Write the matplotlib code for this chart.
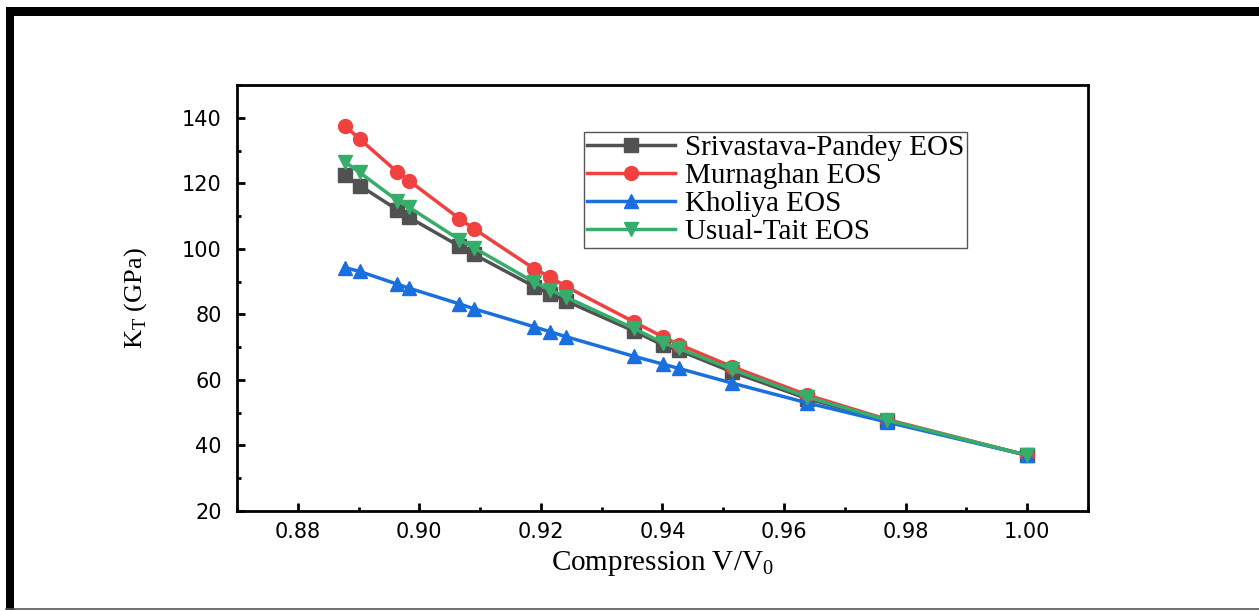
import matplotlib
matplotlib.use("Agg")
import matplotlib.pyplot as plt
from matplotlib.patches import Rectangle
from matplotlib.lines import Line2D
from matplotlib.ticker import MultipleLocator

# compression V/V0
compression = [0.8877, 0.8902, 0.8964, 0.8983, 0.9066, 0.9090, 0.9189, 0.9215,
               0.9241, 0.9353, 0.9401, 0.9427, 0.9515, 0.9638, 0.9770, 1.0000]

# isothermal bulk modulus K_T in GPa
srivastava_pandey = [122.4, 119.3, 111.9, 109.6, 100.8, 98.3, 88.5, 86.3,
                     84.1, 74.9, 70.6, 69.0, 62.4, 54.3, 47.6, 37.0]
murnaghan = [137.6, 133.5, 123.4, 120.8, 109.2, 106.1, 93.9, 91.4,
             88.5, 77.7, 73.1, 70.8, 64.0, 55.4, 47.9, 37.0]
kholiya = [94.3, 93.1, 89.2, 88.0, 83.2, 81.7, 76.2, 74.7,
           73.2, 67.2, 64.8, 63.5, 59.0, 53.0, 47.1, 37.0]
usual_tait = [126.6, 123.3, 114.7, 112.7, 102.8, 100.3, 89.8, 87.5,
              85.3, 75.7, 71.3, 69.6, 63.2, 54.8, 47.7, 37.0]

series = [
    ('Srivastava-Pandey EOS', srivastava_pandey, '#515151', 's'),
    ('Murnaghan EOS', murnaghan, '#F14040', 'o'),
    ('Kholiya EOS', kholiya, '#1A6FDF', '^'),
    ('Usual-Tait EOS', usual_tait, '#37AD6B', 'v'),
]

fig = plt.figure(figsize=(12.59, 6.11), dpi=100)
ax = fig.add_axes([0.1882, 0.1637, 0.6760, 0.6972])

for label, vals, color, marker in series:
    ax.plot(compression, vals, color=color, marker=marker, markersize=10,
            linewidth=2.5, label=label)

ax.set_xlim(0.87, 1.01)
ax.set_ylim(20, 150)
ax.xaxis.set_major_locator(MultipleLocator(0.02))
ax.xaxis.set_minor_locator(MultipleLocator(0.01))
ax.yaxis.set_major_locator(MultipleLocator(20))
ax.yaxis.set_minor_locator(MultipleLocator(10))
ax.xaxis.set_major_formatter(matplotlib.ticker.FormatStrFormatter('%.2f'))

for sp in ax.spines.values():
    sp.set_linewidth(2.0)
ax.tick_params(which='both', direction='in', top=False, right=False, width=2.0)
ax.tick_params(which='major', length=6)
ax.tick_params(which='minor', length=3)
ax.tick_params(axis='y', which='major', pad=11, labelsize=15)
ax.tick_params(axis='x', which='major', pad=8, labelsize=15)

ax.set_xlabel(r'Compression V/V$_{\mathregular{0}}$', family='Liberation Serif',
              fontsize=21, labelpad=5)
ax.set_ylabel(r'K$_{\mathregular{T}}$ (GPa)', family='Liberation Serif',
              fontsize=19, labelpad=24)

leg = ax.legend(loc='upper left', bbox_to_anchor=(0.408, 0.89), borderaxespad=0,
                prop={'family': 'Liberation Serif', 'size': 21},
                fancybox=False, edgecolor='#555555', framealpha=1,
                handlelength=3.0, labelspacing=0.05, borderpad=0.1,
                handletextpad=0.35)
leg.get_frame().set_linewidth(1.0)

# black frame round the picture
fig.add_artist(Rectangle((0.0048, 0.9738), 1.0, 0.0147, transform=fig.transFigure,
                         color='black', lw=0))
fig.add_artist(Rectangle((0.0048, 0.0016), 0.0063, 0.98, transform=fig.transFigure,
                         color='black', lw=0))
fig.add_artist(Line2D([0.0048, 1.0], [0.0025, 0.0025], transform=fig.transFigure,
                      color='#555555', lw=1.2))

fig.savefig('out.png', dpi=100)
